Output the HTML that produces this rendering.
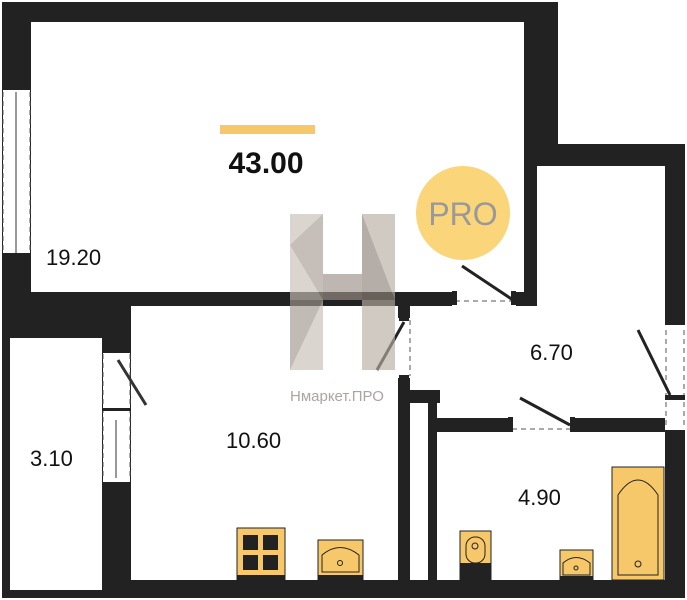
<!DOCTYPE html>
<html><head><style>
html,body{margin:0;padding:0;background:#fff;}
svg{display:block;}
text{font-family:"Liberation Sans",sans-serif;}
</style></head><body>
<svg width="687" height="600" viewBox="0 0 687 600" xmlns="http://www.w3.org/2000/svg">
<rect width="687" height="600" fill="#fff"/>
<g fill="#222">
<rect x="2" y="2" width="556" height="20"/>
<rect x="2" y="2" width="29" height="336"/>
<rect x="524" y="2" width="34" height="164"/>
<rect x="524" y="144" width="161" height="22"/>
<rect x="524" y="144" width="13" height="161"/>
<rect x="665" y="144" width="20" height="454"/>
<rect x="2" y="292" width="535" height="14"/>
<rect x="2" y="292" width="129" height="46"/>
<rect x="2" y="292" width="8" height="306"/>
<rect x="102" y="292" width="29" height="290"/>
<rect x="102" y="580" width="583" height="18"/>
<rect x="2" y="590" width="683" height="8"/>
<rect x="398" y="305" width="12" height="280"/>
<rect x="410" y="390" width="30" height="13"/>
<rect x="428" y="390" width="9" height="195"/>
<rect x="437" y="418" width="230" height="14"/>
</g>
<rect x="3" y="90" width="27" height="164" fill="#fff"/>
<g stroke="#555" stroke-dasharray="5,4" fill="none" stroke-width="1">
<line x1="3" y1="92" x2="3" y2="254"/><line x1="30" y1="92" x2="30" y2="254"/>
</g>
<line x1="16" y1="92" x2="16" y2="254" stroke="#333"/>
<rect x="3" y="86" width="28" height="4" fill="#222"/><rect x="3" y="253" width="28" height="4" fill="#222"/>
<rect x="103" y="352" width="27" height="130" fill="#fff"/>
<g stroke="#555" stroke-dasharray="5,4" fill="none"><line x1="103" y1="354" x2="103" y2="480"/><line x1="130" y1="354" x2="130" y2="480"/></g>
<line x1="116" y1="420" x2="116" y2="478" stroke="#333"/>
<line x1="118" y1="360" x2="146" y2="405" stroke="#333" stroke-width="3"/>
<rect x="102" y="350" width="29" height="3" fill="#222"/><rect x="102" y="408" width="29" height="3" fill="#222"/>
<rect x="452" y="292" width="64" height="14" fill="#fff"/>
<line x1="455" y1="301" x2="514" y2="301" stroke="#555" stroke-dasharray="5,4"/>
<line x1="462" y1="266" x2="513" y2="300" stroke="#222" stroke-width="3"/>
<rect x="452" y="291" width="5" height="14" fill="#222"/><rect x="511" y="291" width="5" height="14" fill="#222"/>
<rect x="398" y="318" width="12" height="60" fill="#fff"/>
<line x1="410" y1="320" x2="410" y2="376" stroke="#555" stroke-dasharray="5,4"/>
<line x1="404" y1="322" x2="377" y2="370" stroke="#222" stroke-width="3"/>
<rect x="399" y="316" width="10" height="5" fill="#222"/><rect x="399" y="375" width="10" height="5" fill="#222"/>
<rect x="665" y="325" width="20" height="105" fill="#fff"/>
<line x1="684" y1="330" x2="684" y2="425" stroke="#555" stroke-dasharray="5,4"/>
<line x1="666" y1="330" x2="666" y2="425" stroke="#555" stroke-dasharray="5,4"/>
<line x1="638" y1="330" x2="670" y2="395" stroke="#222" stroke-width="3"/>
<rect x="665" y="320" width="20" height="5" fill="#222"/><rect x="665" y="395" width="20" height="5" fill="#222"/>
<rect x="510" y="418" width="64" height="14" fill="#fff"/>
<line x1="512" y1="429" x2="572" y2="429" stroke="#555" stroke-dasharray="5,4"/>
<line x1="520" y1="398" x2="570" y2="425" stroke="#222" stroke-width="3"/>
<rect x="508" y="417" width="5" height="15" fill="#222"/><rect x="570" y="417" width="5" height="15" fill="#222"/>
<rect x="237" y="528" width="48" height="52" fill="#f6c86a" stroke="#222"/>
<rect x="243" y="535" width="15" height="15" fill="#222"/><rect x="263" y="535" width="15" height="15" fill="#222"/>
<rect x="243" y="555" width="15" height="15" fill="#222"/><rect x="263" y="555" width="15" height="15" fill="#222"/>
<rect x="237" y="575" width="48" height="5" fill="#222"/>
<rect x="318" y="540" width="45" height="40" fill="#f6c86a" stroke="#222"/>
<path d="M322 572 L322 555 Q340 540 359 555 L359 572 Z" fill="none" stroke="#222"/>
<circle cx="340" cy="563" r="2.5" fill="none" stroke="#222"/>
<rect x="318" y="575" width="45" height="5" fill="#222"/>
<rect x="460" y="531" width="31" height="49" fill="#f6c86a" stroke="#222"/>
<rect x="466" y="537" width="19" height="26" rx="9" fill="none" stroke="#222"/>
<circle cx="475" cy="546" r="3" fill="none" stroke="#222"/>
<rect x="460" y="563" width="31" height="17" fill="#222"/>
<rect x="560" y="550" width="33" height="30" fill="#f6c86a" stroke="#222"/>
<path d="M563 575 L563 563 Q576 552 590 563 L590 575 Z" fill="none" stroke="#222"/>
<circle cx="576" cy="568" r="2" fill="none" stroke="#222"/>
<rect x="560" y="576" width="33" height="4" fill="#222"/>
<rect x="612" y="467" width="52" height="113" fill="#f6c86a" stroke="#222"/>
<path d="M618 575 L618 495 Q638 465 658 495 L658 575 Z" fill="none" stroke="#222"/>
<circle cx="638" cy="564" r="3" fill="none" stroke="#222"/>
<g opacity="0.65">
<rect x="290" y="214" width="33" height="156" fill="#c9c0b8"/>
<rect x="362" y="214" width="33" height="156" fill="#b8aea4"/>
<rect x="323" y="274" width="39" height="26" fill="#9a9088"/>
<polygon points="290,245 323,214 323,300" fill="#a89e94"/>
<polygon points="362,214 395,300 362,300" fill="#8e847a"/>
<polygon points="290,300 323,300 290,370" fill="#a09890"/>
</g>
<text x="290" y="401" font-size="15" fill="#a9a5a2">Нмаркет.ПРО</text>
<rect x="220" y="125" width="95" height="9" fill="#f6c86a"/>
<text x="266" y="173" font-size="30" font-weight="bold" text-anchor="middle" fill="#111">43.00</text>
<circle cx="463" cy="213" r="47" fill="#fad57a"/>
<text x="463" y="225" font-size="32" text-anchor="middle" fill="#999">PRO</text>
<text x="46" y="265" font-size="22" fill="#111">19.20</text>
<text x="530" y="360" font-size="22" fill="#111">6.70</text>
<text x="226" y="448" font-size="22" fill="#111">10.60</text>
<text x="30" y="466" font-size="22" fill="#111">3.10</text>
<text x="518" y="505" font-size="22" fill="#111">4.90</text>
</svg>
</body></html>
